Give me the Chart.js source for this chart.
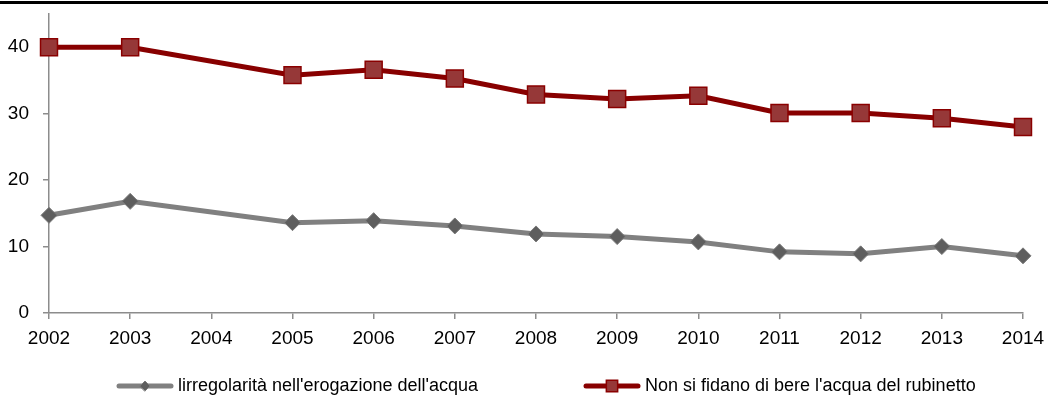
<!DOCTYPE html>
<html>
<head>
<meta charset="utf-8">
<script src="https://cdn.jsdelivr.net/npm/chart.js@4/dist/chart.umd.min.js"></script>
<style>
  html, body { margin: 0; padding: 0; background: #fff; }
  #wrap { position: relative; width: 1048px; height: 396px; }
</style>
</head>
<body>
<div id="wrap"><canvas id="c" width="1048" height="396"></canvas></div>
<script>
// Years on the horizontal axis (2004 has no survey value)
const years = ['2002', '2003', '2004', '2005', '2006', '2007', '2008', '2009', '2010', '2011', '2012', '2013', '2014'];

// Percentage of households reporting irregular water supply
const irregolarita = [14.7, 16.8, null, 13.6, 13.9, 13.1, 11.9, 11.5, 10.7, 9.2, 8.9, 10.0, 8.6];

// Percentage of households that do not trust drinking tap water
const nonSiFidano = [40.0, 40.0, null, 35.8, 36.6, 35.3, 32.9, 32.2, 32.7, 30.1, 30.1, 29.3, 28.0];

const yTicks = [0, 10, 20, 30, 40];

const seriesLabels = [
  "lirregolarità nell'erogazione dell'acqua",
  "Non si fidano di bere l'acqua del rubinetto"
];

const FONT = '"Liberation Sans", Arial, sans-serif';
const AXIS_GRAY = '#8c8c8c';

// Black rule along the top edge and a line+marker legend under the axis
const decorations = {
  id: 'decorations',
  beforeDraw(chart) {
    const ctx = chart.ctx;
    ctx.save();
    ctx.fillStyle = '#000';
    ctx.fillRect(0, 1, chart.width, 3);
    ctx.restore();
  },
  afterDraw(chart) {
    const ctx = chart.ctx;
    const y = 386;
    const items = [
      { x: 117, ds: chart.data.datasets[0], r: 5 },
      { x: 584, ds: chart.data.datasets[1], r: 8 }
    ];
    ctx.save();
    items.forEach(it => {
      const ds = it.ds;
      ctx.strokeStyle = ds.borderColor;
      ctx.lineWidth = ds.borderWidth;
      ctx.lineCap = 'round';
      ctx.beginPath();
      ctx.moveTo(it.x + 2, y);
      ctx.lineTo(it.x + 54, y);
      ctx.stroke();
      ctx.fillStyle = ds.pointBackgroundColor;
      ctx.strokeStyle = ds.pointBorderColor;
      ctx.lineWidth = ds.pointBorderWidth;
      Chart.helpers.drawPoint(ctx, {
        pointStyle: ds.pointStyle,
        radius: it.r,
        rotation: 0,
        borderWidth: ds.pointBorderWidth
      }, it.x + 28, y);
      ctx.fillStyle = '#000';
      ctx.font = '18px ' + FONT;
      ctx.textBaseline = 'middle';
      ctx.textAlign = 'left';
      ctx.fillText(ds.label, it.x + 61, y);
    });
    ctx.restore();
  }
};

new Chart(document.getElementById('c'), {
  type: 'line',
  data: {
    labels: years,
    datasets: [
      {
        label: seriesLabels[0],
        data: irregolarita,
        borderColor: '#808080',
        borderWidth: 5,
        pointStyle: 'rectRot',
        pointRadius: 8,
        pointBackgroundColor: '#5e5e5e',
        pointBorderColor: '#7a7a7a',
        pointBorderWidth: 1,
        spanGaps: true,
        tension: 0
      },
      {
        label: seriesLabels[1],
        data: nonSiFidano,
        borderColor: '#880000',
        borderWidth: 5,
        pointStyle: 'rect',
        pointRadius: 12,
        pointBackgroundColor: '#963838',
        pointBorderColor: '#8a0000',
        pointBorderWidth: 1.5,
        spanGaps: true,
        tension: 0
      }
    ]
  },
  options: {
    responsive: false,
    animation: false,
    events: [],
    layout: { padding: { left: 0, right: 25, top: 14, bottom: 43 } },
    plugins: {
      legend: { display: false },
      tooltip: { enabled: false }
    },
    scales: {
      x: {
        offset: false,
        grid: {
          display: true,
          drawOnChartArea: false,
          drawTicks: true,
          tickLength: 6,
          color: AXIS_GRAY,
          lineWidth: 1.5
        },
        border: { display: true, color: AXIS_GRAY, width: 1.5 },
        ticks: {
          color: '#000',
          font: { family: FONT, size: 19 },
          padding: 8,
          maxRotation: 0,
          autoSkip: false
        },
        afterFit(scale) {
          scale.height = 40;
          scale.paddingLeft = 0;
          scale.paddingRight = 0;
        }
      },
      y: {
        min: 0,
        max: 45,
        afterBuildTicks(scale) {
          scale.ticks = yTicks.map(v => ({ value: v }));
        },
        grid: {
          display: true,
          drawOnChartArea: false,
          drawTicks: true,
          tickLength: 6,
          color: AXIS_GRAY,
          lineWidth: 1.5
        },
        border: { display: true, color: AXIS_GRAY, width: 1.5 },
        ticks: {
          color: '#000',
          font: { family: FONT, size: 19 },
          padding: 14
        },
        afterFit(scale) {
          scale.width = 49;
          scale.paddingTop = 0;
          scale.paddingBottom = 0;
        }
      }
    }
  },
  plugins: [decorations]
});
</script>
</body>
</html>
